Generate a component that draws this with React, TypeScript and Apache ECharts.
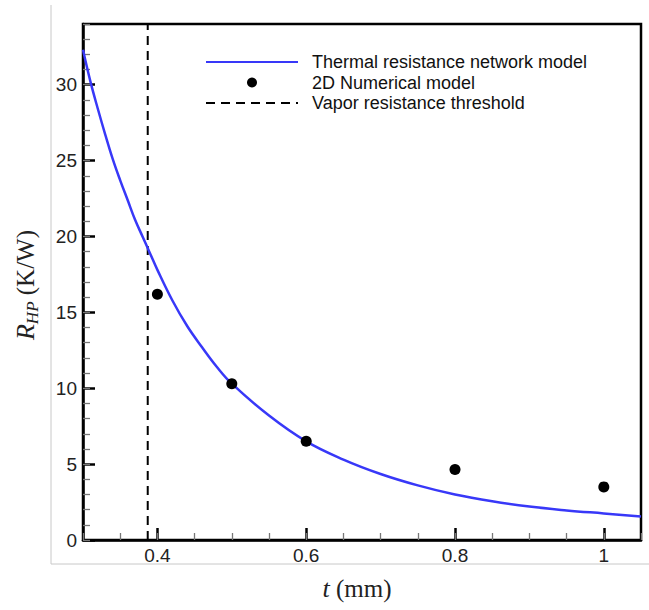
import React, { useEffect, useRef } from "react";
import * as echarts from "echarts";

const curveT = [0.3, 0.31, 0.32, 0.33, 0.34, 0.35, 0.36, 0.37, 0.38, 0.39, 0.4, 0.42, 0.44, 0.46, 0.48, 0.5, 0.55, 0.6, 0.65, 0.7, 0.75, 0.8, 0.85, 0.9, 0.95, 1.0, 1.05];
const curveR = [32.3, 30.2, 28.4, 26.7, 25.1, 23.7, 22.4, 21.1, 20.0, 18.9, 17.8, 15.8, 14.1, 12.7, 11.4, 10.3, 8.2, 6.5, 5.3, 4.35, 3.6, 3.0, 2.55, 2.2, 1.95, 1.75, 1.55];

const numT = [0.4, 0.5, 0.6, 0.8, 1.0];
const numR = [16.2, 10.3, 6.5, 4.65, 3.5];

const thresholdT = 0.387;
const yRange = [0, 34];

const xMajorTicks = [0.4, 0.6, 0.8, 1.0];
const yMajorTicks = [0, 5, 10, 15, 20, 25, 30];

const seriesNames = [
  "Thermal resistance network model",
  "2D Numerical model",
  "Vapor resistance threshold",
];

const SANS = "'Liberation Sans', Arial, sans-serif";
const SERIF = "'Liberation Serif', 'Times New Roman', serif";

export default function App() {
  const ref = useRef<HTMLDivElement>(null);
  useEffect(() => {
    if (!ref.current) return;
    const chart = echarts.init(ref.current, null, { renderer: "svg" });
    const xmin = 0.3, xmax = 1.05;
    const fmt = (v: number) => String(Math.round(v * 100) / 100);
    chart.setOption({
      animation: false,
      backgroundColor: "#fff",
      grid: {
        left: 83, right: 8, top: 24, bottom: 70,
        show: true, borderColor: "#000", borderWidth: 2.5, backgroundColor: "transparent",
      },
      legend: {
        orient: "vertical",
        left: 205,
        top: 53,
        padding: 0,
        itemWidth: 92,
        itemHeight: 10,
        itemGap: 2.5,
        data: [
          { name: seriesNames[0], itemStyle: { opacity: 0 } },
          { name: seriesNames[1] },
          { name: seriesNames[2], itemStyle: { opacity: 0 } },
        ],
        textStyle: { fontFamily: SANS, fontSize: 18, color: "#111", padding: [0, 0, 0, 9] },
      },
      xAxis: [
        {
          type: "value", min: xmin, max: xmax, position: "bottom",
          splitLine: { show: false },
          axisLine: { show: true, onZero: false, lineStyle: { color: "#000", width: 2.5 } },
          axisTick: { show: true, inside: true, length: 12, customValues: xMajorTicks, lineStyle: { color: "#000", width: 2.5 } },
          axisLabel: { customValues: xMajorTicks, formatter: fmt, margin: 6, fontFamily: SANS, fontSize: 19, color: "#222" },
        },
        {
          type: "value", min: xmin, max: xmax, interval: 0.05, position: "bottom",
          splitLine: { show: false },
          axisLine: { show: false },
          axisTick: { show: true, inside: true, length: 7, lineStyle: { color: "#777", width: 1.3 } },
          axisLabel: { show: false },
        },
      ],
      yAxis: [
        {
          type: "value", min: yRange[0], max: yRange[1], position: "left",
          splitLine: { show: false },
          axisLine: { show: true, onZero: false, lineStyle: { color: "#000", width: 2.5 } },
          axisTick: { show: true, inside: true, length: 12, customValues: yMajorTicks, lineStyle: { color: "#000", width: 2.5 } },
          axisLabel: { customValues: yMajorTicks, margin: 6, fontFamily: SANS, fontSize: 19, color: "#222" },
        },
        {
          type: "value", min: yRange[0], max: yRange[1], interval: 1, position: "left",
          splitLine: { show: false },
          axisLine: { show: false },
          axisTick: { show: true, inside: true, length: 7, lineStyle: { color: "#777", width: 1.3 } },
          axisLabel: { show: false },
        },
      ],
      series: [
        {
          name: seriesNames[0],
          type: "line",
          data: curveT.map((t, i) => [t, curveR[i]]),
          smooth: 0.4,
          symbol: "none",
          clip: true,
          lineStyle: { color: "#3838f8", width: 2.5 },
          itemStyle: { color: "#3838f8" },
          z: 3,
        },
        {
          name: seriesNames[1],
          type: "scatter",
          data: numT.map((t, i) => [t, numR[i]]),
          symbol: "circle",
          symbolSize: 11,
          itemStyle: { color: "#000", opacity: 1 },
          z: 4,
        },
        {
          name: seriesNames[2],
          type: "line",
          data: [[thresholdT, yRange[0]], [thresholdT, yRange[1]]],
          symbol: "none",
          lineStyle: { color: "#000", width: 2, type: [9, 6] },
          itemStyle: { color: "#000" },
          z: 2,
        },
      ],
      graphic: [
        { type: "line", shape: { x1: 51, y1: 5, x2: 51, y2: 564 }, style: { stroke: "#c8c8c8", lineWidth: 1 } },
        { type: "line", shape: { x1: 51, y1: 564, x2: 649, y2: 564 }, style: { stroke: "#c8c8c8", lineWidth: 1 } },
        {
          type: "text", x: 357, y: 588,
          style: {
            text: "{i|t} {n|(mm)}",
            align: "center", verticalAlign: "middle",
            fontFamily: SERIF, fontSize: 25, fill: "#222",
            rich: {
              i: { fontFamily: SERIF, fontSize: 26, fontStyle: "italic", fill: "#222" },
              n: { fontFamily: SERIF, fontSize: 25, fill: "#222" },
            },
          },
        },
        {
          type: "text", x: 25, y: 285, rotation: Math.PI / 2,
          style: {
            text: "{i|R}{s|HP} {n|(K/W)}",
            align: "center", verticalAlign: "middle",
            fontFamily: SERIF, fontSize: 25, fill: "#222",
            rich: {
              i: { fontFamily: SERIF, fontSize: 26, fontStyle: "italic", lineHeight: 32, fill: "#222" },
              s: { fontFamily: SERIF, fontSize: 17, fontStyle: "italic", lineHeight: 17, verticalAlign: "bottom", fill: "#222" },
              n: { fontFamily: SERIF, fontSize: 25, lineHeight: 32, fill: "#222" },
            },
          },
        },
      ],
    });
    return () => chart.dispose();
  }, []);
  return <div ref={ref} style={{ position: "absolute", left: 0, top: 0, width: 649, height: 610 }} />;
}
